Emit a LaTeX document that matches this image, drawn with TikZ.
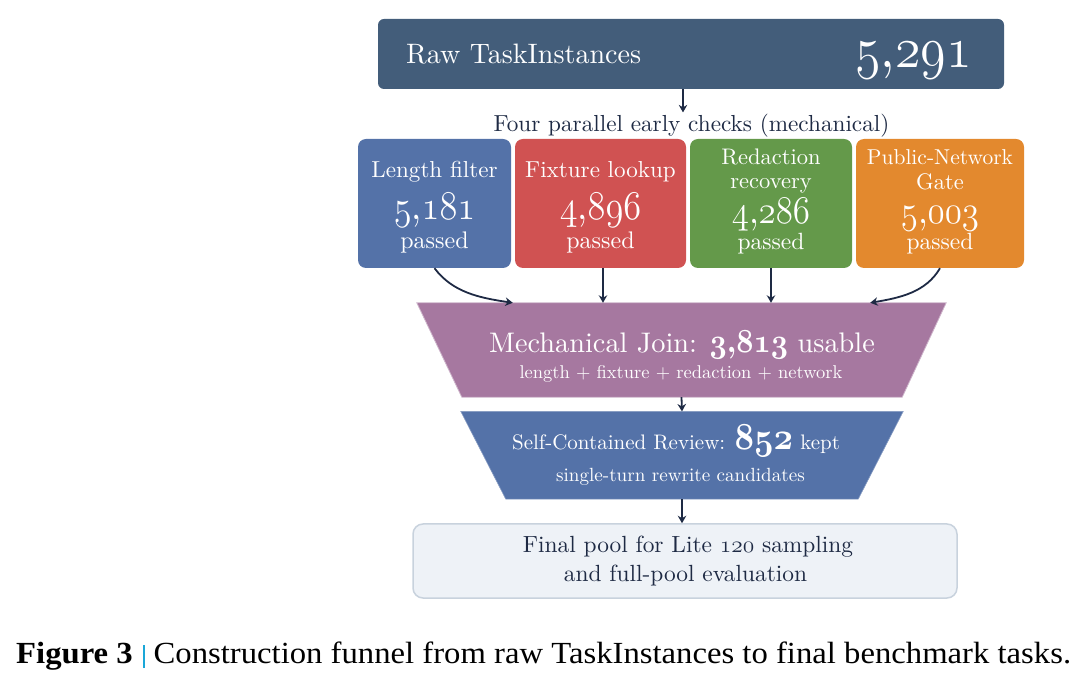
\RequirePackage{fix-cm}
\documentclass[tikz,border=0pt]{standalone}
\usepackage{fontspec}
\usepackage{graphicx}
\setmainfont{lmroman10}[Extension=.otf, UprightFont=*-regular, BoldFont=*-bold, ItalicFont=*-italic, BoldItalicFont=*-bolditalic, Ligatures=TeX]
\newfontfamily\capfont{Liberation Serif}
\usetikzlibrary{arrows.meta,calc}
\definecolor{rawc}{HTML}{435D7A}
\definecolor{bluec}{HTML}{5472A8}
\definecolor{redc}{HTML}{D05252}
\definecolor{greenc}{HTML}{64994A}
\definecolor{orangec}{HTML}{E3892E}
\definecolor{purplec}{HTML}{A678A0}
\definecolor{navyc}{HTML}{1E2A44}
\definecolor{finalfill}{HTML}{EEF2F7}
\definecolor{finaldraw}{HTML}{C8D2DD}
\definecolor{barc}{HTML}{1AA7D8}
\newcommand{\osn}[1]{{\usefont{OML}{cmm}{m}{it}#1}}
\newcommand{\osb}[1]{{\usefont{OML}{cmm}{b}{it}#1}}
\newcommand{\nm}[2]{\scalebox{1}[1.12]{\osn{#1},\osn{#2}}}
\newcommand{\nb}[1]{\scalebox{1}[1.12]{#1}}
\newcommand{\fs}[1]{\fontsize{#1}{#1}\selectfont}
\tikzset{
  arr/.style={draw=navyc, line width=1.8pt, -{Stealth[length=7.5pt,width=8.5pt]}},
  chk/.style={rounded corners=8pt, minimum height=129pt, inner sep=0pt},
  wt/.style={text=white, anchor=base, inner sep=0pt},
  dk/.style={text=navyc, anchor=base, inner sep=0pt},
  holder/.style={inner sep=0pt},
}
\begin{document}
\begin{tikzpicture}[x=1pt,y=-1pt]
\useasboundingbox (0,0) rectangle (1088,684);

% raw box
\node[fill=rawc, rounded corners=6pt, minimum width=626pt, minimum height=70pt, inner sep=0pt] (raw) at (691,54) {};
\node[wt, anchor=base west] (rawt) at (406,64) {\fs{28.1}Raw TaskInstances};
\node[wt, anchor=base east] (rawn) at (972,68) {\fs{52}\nm{5}{291}};

% checks label
\node[dk, inner sep=2pt] (checks) at (691.5,132) {\fs{23.2}Four parallel early checks (mechanical)};

% four check boxes
\node[chk, fill=bluec, minimum width=153pt] (len) at (434.5,203.5) {};
\node[chk, fill=redc, minimum width=171pt] (fix) at (600.5,203.5) {};
\node[chk, fill=greenc, minimum width=162pt] (red) at (771,203.5) {};
\node[chk, fill=orangec, minimum width=168pt] (pub) at (940,203.5) {};

\node[wt] (lenA) at (434.5,178) {\fs{23.1}Length filter};
\node[wt] (lenN) at (434.5,220) {\fs{36.4}\nm{5}{181}};
\node[wt] (lenP) at (434.5,249) {\fs{24}passed};

\node[wt] (fixA) at (600.5,178) {\fs{23.1}Fixture lookup};
\node[wt] (fixN) at (600.5,220) {\fs{36.4}\nm{4}{896}};
\node[wt] (fixP) at (600.5,249) {\fs{24}passed};

\node[wt] (redA) at (771,165) {\fs{22.5}Redaction};
\node[wt] (redB) at (771,189) {\fs{22.5}recovery};
\node[wt] (redN) at (771,224) {\fs{35}\nm{4}{286}};
\node[wt] (redP) at (771,250) {\fs{23.5}passed};

\node[wt] (pubA) at (940,165) {\fs{21.5}Public-Network};
\node[wt] (pubB) at (940,190) {\fs{22.5}Gate};
\node[wt] (pubN) at (940,224) {\fs{35}\nm{5}{003}};
\node[wt] (pubP) at (940,250) {\fs{23.5}passed};

% join trapezoid
\node[holder, minimum width=529pt, minimum height=94pt] (join) at (681.5,350) {};
\fill[purplec, draw=purplec!55!white, line width=0.8pt] (join.north west) -- (join.north east) -- ($(join.south east)+(-44,0)$) -- ($(join.south west)+(45,0)$) -- cycle;
\node[wt] (joinA) at (682,353) {\fs{28.3}Mechanical Join: {\fs{30}\nb{\osb{3}{\bfseries,}\osb{813}}} usable};
\node[wt] (joinB) at (681,379) {\fs{18.5}length + fixture + redaction + network};

% review trapezoid
\node[holder, minimum width=442pt, minimum height=87.3pt] (rev) at (682,455.3) {};
\fill[bluec, draw=bluec!70!white, line width=0.6pt] (rev.north west) -- (rev.north east) -- ($(rev.south east)+(-45,0)$) -- ($(rev.south west)+(45,0)$) -- cycle;
\node[wt] (revA) at (676,450) {\fs{21}Self-Contained Review: {\fs{34}\nb{\osb{852}}} kept};
\node[wt] (revB) at (680.5,482) {\fs{19.1}single-turn rewrite candidates};

% final box
\node[fill=finalfill, draw=finaldraw, line width=1.5pt, rounded corners=10pt, minimum width=544pt, minimum height=74pt, inner sep=0pt] (final) at (685,561) {};
\node[dk] (finA) at (688,553) {\fs{23.4}Final pool for Lite \osn{120} sampling};
\node[dk] (finB) at (685.5,582) {\fs{23.4}and full-pool evaluation};

% connectors
\draw[arr] (raw.south -| 683,0) -- (checks.north -| 683,0);
\draw[arr] (len.south) .. controls +(18,24) and +(-34,-5) .. ($(join.north west)+(96,0)$);
\draw[arr] (fix.south -| 603,0) -- (join.north -| 603,0);
\draw[arr] (red.south) -- (red.south |- join.north);
\draw[arr] (pub.south) .. controls +(-14,24) and +(30,-5) .. ($(join.north east)+(-76,0)$);
\draw[arr] (join.south) -- (rev.north);
\draw[arr] (rev.south) -- (rev.south |- final.north);

% caption
\node[anchor=base west, inner sep=0pt] (cap) at (16,663) {\scalebox{1.065}[1]{\capfont\fs{30.7}\textbf{Figure 3}\hspace{10pt}\textcolor{barc}{\rule[-5pt]{1.6pt}{23pt}}\hspace{8pt}Construction funnel from raw TaskInstances to final benchmark tasks.}};
\end{tikzpicture}
\end{document}
